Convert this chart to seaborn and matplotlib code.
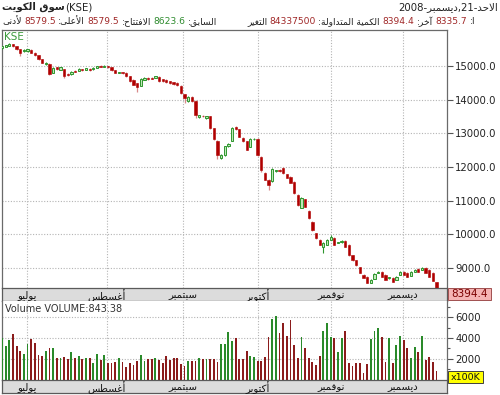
import numpy as np
import pandas as pd
import matplotlib
matplotlib.use("Agg")
import matplotlib.pyplot as plt
from matplotlib.patches import Rectangle
import seaborn as sns

sns.set_theme(style="white")
plt.rcParams["font.family"] = ["DejaVu Sans"]

# ---------------- data ----------------
opens = [15530, 15570, 15600, 15650, 15580, 15500, 15440, 15450, 15480, 15400,
         15320, 15200, 15060, 15060, 14800, 14960, 14890, 14900, 14760, 14750,
         14860, 14860, 14910, 14880, 14920, 14900, 14950, 15010, 14970, 15000,
         14960, 14880, 14790, 14820, 14800, 14700, 14580, 14480, 14420, 14590,
         14650, 14640, 14650, 14680, 14610, 14580, 14540, 14520, 14500, 14420,
         14160, 13960, 14090, 13960, 13480, 13520, 13470, 13500, 13160, 12780,
         12280, 12360, 12610, 12780, 13200, 13130, 12860, 12760, 12600, 12820,
         12830, 12310, 11820, 11620, 11570, 11870, 11920, 11960, 11790, 11700,
         11560, 11170, 10790, 11050, 10700, 10370, 10040, 9840, 9630, 9690,
         9840, 9900, 9740, 9760, 9810, 9690, 9390, 9240, 9030, 8800,
         8740, 8560, 8680, 8860, 8890, 8800, 8690, 8710, 8650, 8800,
         8890, 8860, 8770, 8890, 8980, 8950, 9010, 8950, 8860, 8579.5]
closes = [15580, 15610, 15650, 15580, 15500, 15380, 15470, 15490, 15400, 15320,
          15200, 15100, 15090, 14750, 14940, 14900, 14960, 14700, 14720, 14820,
          14830, 14920, 14880, 14930, 14880, 14950, 15000, 14980, 15010, 14960,
          14880, 14800, 14820, 14790, 14700, 14560, 14450, 14380, 14610, 14640,
          14600, 14620, 14690, 14560, 14540, 14510, 14480, 14460, 14440, 14190,
          14050, 14090, 13960, 13550, 13530, 13500, 13500, 13150, 12830, 12360,
          12360, 12610, 12680, 13170, 13140, 12900, 12760, 12510, 12830, 12840,
          12360, 11910, 11620, 11470, 11940, 11900, 11880, 11820, 11680, 11530,
          11230, 10870, 11080, 10820, 10490, 10130, 9890, 9690, 9750, 9840,
          9930, 9690, 9760, 9800, 9630, 9390, 9240, 9090, 8860, 8710,
          8560, 8650, 8830, 8890, 8740, 8650, 8720, 8590, 8740, 8890,
          8800, 8740, 8890, 8950, 8890, 9010, 8860, 8740, 8623.6, 8394.4]
highs = [15600, 15630, 15670, 15660, 15590, 15510, 15490, 15500, 15490, 15410,
         15330, 15220, 15110, 15080, 14960, 14980, 14980, 14920, 14780, 14840,
         14880, 14930, 14920, 14940, 14930, 14960, 15010, 15020, 15020, 15010,
         14970, 14890, 14830, 14830, 14820, 14710, 14600, 14500, 14630, 14660,
         14670, 14660, 14700, 14690, 14620, 14600, 14560, 14530, 14510, 14440,
         14180, 14110, 14100, 13980, 13550, 13540, 13510, 13510, 13170, 12800,
         12380, 12630, 12700, 13200, 13220, 13140, 12880, 12780, 12850, 12860,
         12850, 12320, 11840, 11640, 11960, 11920, 11940, 11990, 11800, 11720,
         11580, 11190, 11100, 11060, 10720, 10390, 10050, 9860, 9770, 9860,
         9980, 9910, 9780, 9820, 9820, 9700, 9400, 9250, 9040, 8810,
         8750, 8670, 8850, 8910, 8900, 8810, 8740, 8720, 8760, 8910,
         8900, 8870, 8900, 8960, 8990, 9020, 9020, 8960, 8870, 8579.5]
lows = [15510, 15550, 15590, 15560, 15480, 15290, 15420, 15430, 15390, 15300,
        15180, 15080, 15030, 14720, 14780, 14880, 14870, 14650, 14700, 14730,
        14810, 14840, 14860, 14870, 14860, 14890, 14940, 14960, 14960, 14940,
        14850, 14780, 14780, 14770, 14680, 14530, 14430, 14230, 14400, 14570,
        14590, 14600, 14640, 14530, 14520, 14500, 14460, 14440, 14420, 14170,
        13900, 13940, 13940, 13450, 13460, 13480, 13440, 13120, 12800, 12240,
        12240, 12340, 12590, 12760, 13100, 12880, 12740, 12490, 12580, 12800,
        12340, 11850, 11600, 11320, 11550, 11850, 11860, 11800, 11660, 11510,
        11200, 10850, 10770, 10800, 10470, 10110, 9870, 9670, 9450, 9670,
        9820, 9670, 9730, 9750, 9610, 9370, 9220, 9070, 8840, 8690,
        8540, 8540, 8660, 8850, 8720, 8630, 8680, 8570, 8630, 8790,
        8780, 8720, 8760, 8880, 8870, 8940, 8850, 8720, 8600, 8335.7]
volumes = [3970, 3230, 3800, 4350, 3230, 2770, 2450, 3420, 3870, 3550,
           2350, 2260, 2770, 3060, 3060, 2030, 2030, 2130, 1940, 2610,
           2030, 2260, 1970, 2030, 2030, 1550, 2450, 1870, 2350, 1610,
           1550, 1710, 2030, 1710, 1160, 1550, 1390, 1770, 2350, 1770,
           1970, 1970, 2030, 1870, 1550, 2260, 1870, 2030, 2030, 1480,
           1290, 1810, 1810, 1810, 2030, 1940, 1940, 1970, 1970, 1710,
           3420, 3420, 4610, 3740, 3970, 1970, 1970, 2770, 2260, 2130,
           1810, 1810, 2130, 4060, 5810, 6130, 4520, 5480, 4230, 5680,
           3320, 2030, 4060, 3000, 2030, 1710, 1390, 2260, 4680, 5420,
           4130, 3970, 2610, 3970, 4680, 1550, 1290, 1550, 1610, 580,
           1450, 3870, 4680, 5000, 4130, 1710, 3970, 1550, 3320, 4230,
           3810, 3000, 2030, 3160, 2610, 4230, 1870, 2130, 1710, 843.38]
months = ["يوليو", "أغسطس", "سبتمبر", "أكتوبر", "نوفمبر", "ديسمبر"]
month_pos = [6.85, 28.75, 49.55, 70.1, 90.1, 109.8]
price_ticks = [9000, 10000, 11000, 12000, 13000, 14000, 15000]
vol_ticks = [2000, 4000, 6000]
vol_minor = [1000, 3000, 5000, 7000]
last_price = 8394.4
last_volume = 843.38

# ---------------- Arabic shaping helper ----------------
FORMS = {
    'ا': (0xFE8D, 0xFE8E), 'أ': (0xFE83, 0xFE84), 'آ': (0xFE81, 0xFE82),
    'ب': (0xFE8F, 0xFE90, 0xFE91, 0xFE92), 'ة': (0xFE93, 0xFE94),
    'ت': (0xFE95, 0xFE96, 0xFE97, 0xFE98), 'ح': (0xFEA1, 0xFEA2, 0xFEA3, 0xFEA4),
    'خ': (0xFEA5, 0xFEA6, 0xFEA7, 0xFEA8), 'د': (0xFEA9, 0xFEAA), 'ر': (0xFEAD, 0xFEAE),
    'س': (0xFEB1, 0xFEB2, 0xFEB3, 0xFEB4), 'ص': (0xFEB9, 0xFEBA, 0xFEBB, 0xFEBC),
    'ط': (0xFEC1, 0xFEC2, 0xFEC3, 0xFEC4), 'ع': (0xFEC9, 0xFECA, 0xFECB, 0xFECC),
    'غ': (0xFECD, 0xFECE, 0xFECF, 0xFED0), 'ف': (0xFED1, 0xFED2, 0xFED3, 0xFED4),
    'ق': (0xFED5, 0xFED6, 0xFED7, 0xFED8), 'ك': (0xFED9, 0xFEDA, 0xFEDB, 0xFEDC),
    'ل': (0xFEDD, 0xFEDE, 0xFEDF, 0xFEE0), 'م': (0xFEE1, 0xFEE2, 0xFEE3, 0xFEE4),
    'ن': (0xFEE5, 0xFEE6, 0xFEE7, 0xFEE8), 'و': (0xFEED, 0xFEEE),
    'ى': (0xFEEF, 0xFEF0), 'ي': (0xFEF1, 0xFEF2, 0xFEF3, 0xFEF4),
}
LAMALEF = {'ا': (0xFEFB, 0xFEFC), 'أ': (0xFEF7, 0xFEF8), 'آ': (0xFEF5, 0xFEF6)}


def shape(s):
    ch = list(s)
    n = len(ch)
    out = []
    i = 0
    while i < n:
        c = ch[i]
        prev = ch[i - 1] if i > 0 else None
        pj = prev is not None and prev in FORMS and len(FORMS[prev]) == 4
        if c == 'ل' and i + 1 < n and ch[i + 1] in LAMALEF:
            iso, fin = LAMALEF[ch[i + 1]]
            out.append(chr(fin if pj else iso))
            i += 2
            continue
        if c not in FORMS:
            out.append(c)
            i += 1
            continue
        f = FORMS[c]
        nxt = ch[i + 1] if i + 1 < n else None
        nj = len(f) == 4 and nxt is not None and nxt in FORMS
        if pj and nj:
            g = f[3]
        elif pj:
            g = f[1]
        elif nj:
            g = f[2]
        else:
            g = f[0]
        out.append(chr(g))
        i += 1
    return ''.join(reversed(out))


# ---------------- figure layout ----------------
W, H = 500, 395
fig = plt.figure(figsize=(W / 100, H / 100), dpi=100)
fig.patch.set_facecolor("white")


def rect(x0, y0, x1, y1):
    return [x0 / W, 1 - y1 / H, (x1 - x0) / W, (y1 - y0) / H]


XL, XR = 1.5, 447
ax = fig.add_axes(rect(XL, 30, XR, 288))
axb1 = fig.add_axes(rect(XL, 288, XR, 301), sharex=ax)
axv = fig.add_axes(rect(XL, 301, XR, 379.5), sharex=ax)
axb2 = fig.add_axes(rect(XL, 379.5, XR, 393), sharex=ax)

o = np.array(opens, float)
c = np.array(closes, float)
hi = np.array(highs, float)
lo = np.array(lows, float)
idx = np.arange(len(c))
up = c >= o

GREEN = "#2e962e"
RED = "#b00000"
grid_kw = dict(color="#b4b4b4", linestyle=(0, (1, 1.5)), linewidth=0.8)

# candles
ax.vlines(idx[up], lo[up], hi[up], color=GREEN, lw=0.8, zorder=3)
ax.vlines(idx[~up], lo[~up], hi[~up], color="#d98a8a", lw=0.9, zorder=3)
blo = np.minimum(o, c)
bh = np.maximum(np.abs(c - o), 14)
ax.bar(idx[up], bh[up], bottom=blo[up], width=0.62, color="#bfe8b8",
       edgecolor=GREEN, linewidth=0.7, zorder=4)
ax.bar(idx[~up], bh[~up], bottom=blo[~up], width=0.62, color=RED,
       edgecolor=RED, linewidth=0.4, zorder=4)

# volume via seaborn
VUP, VDN = "#2a8a2a", "#8b1c1c"
df = pd.DataFrame({"i": idx, "vol": volumes, "dir": np.where(up, "up", "down")})
sns.barplot(data=df, x="i", y="vol", hue="dir",
            palette={"up": VUP, "down": VDN},
            native_scale=True, dodge=False, legend=False, width=0.5,
            errorbar=None, saturation=1, ax=axv, zorder=3, linewidth=0)
for patch in axv.patches:
    patch.set_antialiased(False)
    patch.set_linewidth(0)
axv.set_xlabel("")
axv.set_ylabel("")

xmin, xmax = -0.137, 121.86
ax.set_xlim(xmin, xmax)
ax.set_ylim(8406, 16069)
axv.set_ylim(0, 7550)

for a in (ax, axv):
    a.set_facecolor("white")
    for p in month_pos:
        a.axvline(p, zorder=1, **grid_kw)
for p in price_ticks:
    ax.axhline(p, zorder=1, **grid_kw)
for p in vol_ticks:
    axv.axhline(p, zorder=1, **grid_kw)

# y axes on right
ax.yaxis.tick_right()
ax.set_yticks(price_ticks)
ax.set_yticklabels([f"{v:.1f}" for v in price_ticks])
axv.yaxis.tick_right()
axv.set_yticks(vol_ticks)
axv.set_yticklabels([str(v) for v in vol_ticks])
axv.set_yticks(vol_minor, minor=True)
for a in (ax, axv):
    a.tick_params(axis="y", which="major", right=True, length=4, width=0.8,
                  color="#555555", labelsize=7.3, pad=2, labelcolor="#222222")
    a.tick_params(axis="y", which="minor", right=True, length=2, width=0.8,
                  color="#555555")
    a.tick_params(axis="x", bottom=False, labelbottom=False)
    a.grid(False)

for a in (ax, axv):
    for side in ("left", "right", "top", "bottom"):
        a.spines[side].set_visible(True)
        a.spines[side].set_color("#6a6a6a")
        a.spines[side].set_linewidth(0.9)
ax.spines["bottom"].set_visible(False)
axv.spines["bottom"].set_visible(False)
axv.spines["top"].set_visible(False)

# grey month bands
for b in (axb1, axb2):
    b.set_facecolor("#dcdcdc")
    b.set_yticks([])
    b.tick_params(axis="x", bottom=False, labelbottom=False)
    b.set_ylim(0, 1)
    for side in ("left", "right", "top", "bottom"):
        b.spines[side].set_visible(True)
        b.spines[side].set_color("#5a5a5a")
        b.spines[side].set_linewidth(0.9)
    for p, m in zip(month_pos, months):
        b.text(p, 0.42, shape(m), ha="center", va="center", fontsize=7.3,
               color="#111111", transform=b.get_xaxis_transform())

# labels inside panels
fig.text(4 / W, 1 - 37 / H, "KSE", color="#3c9a3c", fontsize=7.5,
         ha="left", va="center")
fig.text(5 / W, 1 - 309 / H, f"Volume VOLUME:{last_volume}", color="#333333",
         fontsize=7, ha="left", va="center")

# last price box
fig.patches.append(Rectangle((447.5 / W, 1 - 300 / H), 43 / W, 12 / H,
                             transform=fig.transFigure, facecolor="#f5b4b4",
                             edgecolor="#a05050", linewidth=0.7))
fig.text(469 / W, 1 - 294.3 / H, f"{last_price:.1f}", color="#7a0000",
         fontsize=7.5, ha="center", va="center")
# x100K box
fig.patches.append(Rectangle((448 / W, 1 - 383 / H), 35 / W, 12 / H,
                             transform=fig.transFigure, facecolor="#ffff00",
                             edgecolor="#404040", linewidth=0.7))
fig.text(465.5 / W, 1 - 377.3 / H, "x100K", color="#111111",
         fontsize=6.8, ha="center", va="center")

# header
renderer = fig.canvas.get_renderer()


def runs(x0, yc, items, size, gap=3.0):
    x = x0
    for txt, col, wt in items:
        t = fig.text(x / W, 1 - yc / H, txt, color=col, fontsize=size,
                     fontweight=wt, ha="left", va="center")
        x += t.get_window_extent(renderer=renderer).width + gap


DK = "#222222"
VR = "#a02828"
VG = "#2e8b2e"
runs(2, 7, [(shape("سوق الكويت"), DK, "bold"), ("(KSE)", DK, "normal")], 7.3, gap=0)
fig.text(498 / W, 1 - 7 / H, "2008-" + shape("ديسمبر") + ",21-" + shape("الاحد"),
         color=DK, fontsize=7.3, ha="right", va="center")
runs(2, 21.5, [(shape("لأدنى"), DK, "normal"), ("8579.5", VR, "normal"),
               (":" + shape("الأعلى"), DK, "normal"), ("8579.5", VR, "normal"),
               (":" + shape("الافتتاح"), DK, "normal"), ("8623.6", VG, "normal"),
               (":" + shape("السابق"), DK, "normal")], 6.6, gap=2.5)
runs(247, 21.5, [(shape("التغير"), DK, "normal"), ("84337500", VR, "normal"),
                 (":" + shape("الكمية المتداولة"), DK, "normal"), ("8394.4", VR, "normal"),
                 (":" + shape("آخر"), DK, "normal"), ("8335.7", VR, "normal"),
                 (":" + shape("ا"), DK, "normal")], 6.6, gap=2.5)

fig.savefig("out.png", dpi=100, facecolor="white")
